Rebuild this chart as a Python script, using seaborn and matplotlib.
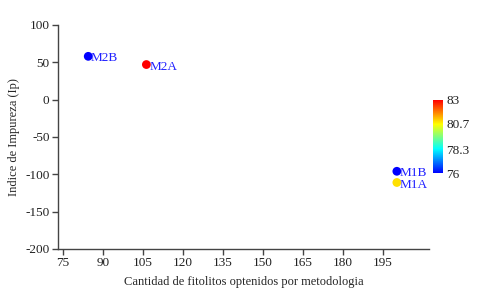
import numpy as np
import pandas as pd
import matplotlib
matplotlib.use("Agg")
import matplotlib.pyplot as plt
import seaborn as sns
from matplotlib.colors import LinearSegmentedColormap, Normalize
from matplotlib.cm import ScalarMappable

sns.set_theme(style="white")
plt.rcParams["font.family"] = ["Liberation Serif", "DejaVu Serif"]
plt.rcParams["axes.unicode_minus"] = False

# data
muestras = ["M2B", "M2A", "M1B", "M1A"]
fitolitos = [84.5, 106.3, 200.2, 200.2]
impureza = [58, 47, -96, -111]
valor_color = [76, 83, 76, 80.95]
cbar_ticks = [76, 78.3, 80.7, 83]

df = pd.DataFrame({
    "muestra": muestras,
    "fitolitos": fitolitos,
    "impureza": impureza,
    "valor": valor_color,
})

cmap = LinearSegmentedColormap.from_list(
    "bcyr", [(0, "#0000ff"), (0.33, "#00ffff"), (0.67, "#ffff00"), (1, "#ff0000")]
)
norm = Normalize(vmin=76, vmax=83)

fig = plt.figure(figsize=(4.86, 3.01), dpi=100)
ax = fig.add_axes([0.119, 0.173, 0.764, 0.744])

sns.scatterplot(
    data=df, x="fitolitos", y="impureza", hue="valor",
    palette=cmap, hue_norm=norm, s=40, edgecolor="none",
    legend=False, ax=ax,
)

for _, row in df.iterrows():
    ax.annotate(row["muestra"], (row["fitolitos"], row["impureza"]),
                xytext=(2, -1.5), textcoords="offset points",
                ha="left", va="center", color="#2020ff", fontsize=9.5)

ax.set_xlim(73.1, 212.3)
ax.set_ylim(-200, 100)
ax.set_xticks(np.arange(75, 196, 15))
ax.set_yticks(np.arange(-200, 101, 50))
ax.set_xlabel("Cantidad de fitolitos optenidos por metodologia", fontsize=9, labelpad=5)
ax.set_ylabel("Indice de Impureza (Ip)", fontsize=9, labelpad=4)

sns.despine(ax=ax)
for sp in ["left", "bottom"]:
    ax.spines[sp].set_color("#444444")
    ax.spines[sp].set_linewidth(1)
ax.tick_params(axis="both", direction="out", length=4, width=1, color="#444444",
               labelsize=9.5, labelcolor="#222222", pad=2)
ax.tick_params(axis="x", bottom=True)
ax.tick_params(axis="y", left=True)

cax = fig.add_axes([0.891, 0.425, 0.021, 0.243])
sm = ScalarMappable(norm=norm, cmap=cmap)
cb = fig.colorbar(sm, cax=cax, ticks=cbar_ticks)
cb.outline.set_visible(False)
cb.ax.set_yticklabels([str(t) for t in cbar_ticks])
cb.ax.tick_params(length=0, labelsize=9.5, labelcolor="#222222", pad=2)

fig.savefig("out.png", dpi=100)
